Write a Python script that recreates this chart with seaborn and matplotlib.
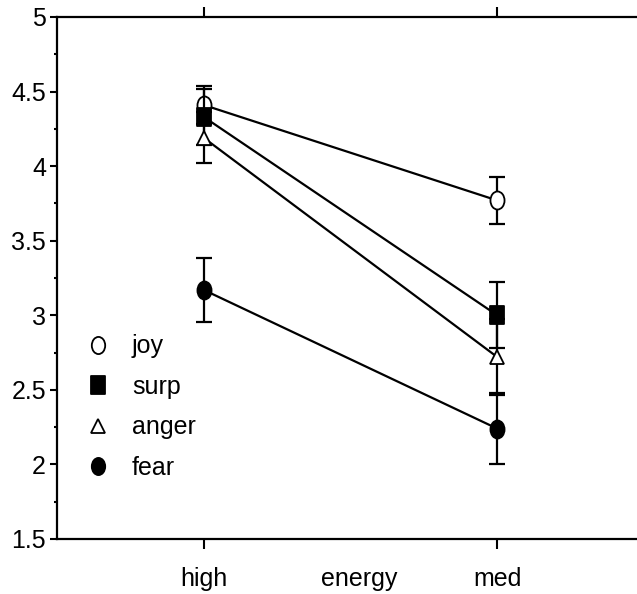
import numpy as np
import pandas as pd
import matplotlib
matplotlib.use("Agg")
import matplotlib.pyplot as plt
from matplotlib.path import Path
from matplotlib.lines import Line2D
import seaborn as sns

# Mean ratings per emotion at each energy level, with error-bar half widths
levels = ["high", "med"]
emotions = ["joy", "surp", "anger", "fear"]
joy_mean = [4.41, 3.77]
joy_err = [0.13, 0.155]
surp_mean = [4.33, 3.00]
surp_err = [0.19, 0.22]
anger_mean = [4.19, 2.72]
anger_err = [0.17, 0.255]
fear_mean = [3.17, 2.24]
fear_err = [0.215, 0.24]
y_ticks = [1.5, 2, 2.5, 3, 3.5, 4, 4.5, 5]
y_tick_labels = ["1.5", "2", "2.5", "3", "3.5", "4", "4.5", "5"]
x_title = "energy"

sns.set_style("ticks")
plt.rcParams["font.family"] = ["Liberation Sans", "DejaVu Sans"]
plt.rcParams["text.color"] = "black"
plt.rcParams["xtick.color"] = "black"
plt.rcParams["ytick.color"] = "black"

rows = []
for name, means, errs in [("joy", joy_mean, joy_err), ("surp", surp_mean, surp_err),
                          ("anger", anger_mean, anger_err), ("fear", fear_mean, fear_err)]:
    for i, lev in enumerate(levels):
        rows.append({"emotion": name, "level": lev, "pos": i, "mean": means[i], "err": errs[i]})
df = pd.DataFrame(rows)

# Tall ellipse and tall rectangle markers
circ = Path.unit_circle()
ellipse = Path(circ.vertices * np.array([0.78, 1.0]), circ.codes)
rect = Path([(-0.39, -0.5), (0.39, -0.5), (0.39, 0.5), (-0.39, 0.5), (-0.39, -0.5)],
            [Path.MOVETO, Path.LINETO, Path.LINETO, Path.LINETO, Path.CLOSEPOLY])

styles = {
    "joy": dict(marker=ellipse, ms=13, mfc="white"),
    "surp": dict(marker=rect, ms=13, mfc="black"),
    "anger": dict(marker="^", ms=10, mfc="white"),
    "fear": dict(marker=ellipse, ms=13, mfc="black"),
}

fig = plt.figure(figsize=(6.37, 5.94), dpi=100)
ax = fig.add_axes([57 / 637, 55 / 594, 587 / 637, 522 / 594])

for k, name in enumerate(emotions):
    sub = df[df["emotion"] == name]
    st = styles[name]
    z = 3 + 2 * k
    ax.errorbar(sub["pos"], sub["mean"], yerr=sub["err"], fmt="none", ecolor="black",
                elinewidth=1.6, capsize=6, capthick=1.6, zorder=z)
    sns.lineplot(data=sub, x="pos", y="mean", ax=ax, color="black", linewidth=1.6,
                 marker=st["marker"], markersize=st["ms"], markerfacecolor=st["mfc"],
                 markeredgecolor="black", markeredgewidth=1.3, zorder=z + 1,
                 errorbar=None, sort=False)

ax.set_xlim(-0.5, 1.5)
ax.set_ylim(1.5, 5)
ax.set_xticks([0, 1])
ax.set_xticklabels(levels, fontsize=18)
ax.set_yticks(y_ticks)
ax.set_yticklabels(y_tick_labels, fontsize=18)
ax.set_yticks(np.arange(1.75, 5, 0.5), minor=True)
ax.set_xlabel("")
ax.set_ylabel("")

for side in ["left", "top", "bottom"]:
    ax.spines[side].set_linewidth(1.6)
    ax.spines[side].set_color("black")
ax.spines["right"].set_visible(False)

ax.tick_params(axis="y", which="major", direction="out", length=5, width=1.5, pad=3)
ax.tick_params(axis="y", which="minor", direction="out", length=2.5, width=1.5)
ax.tick_params(axis="x", which="major", direction="out", length=7, width=1.5, pad=13,
               top=True, bottom=True)

ax.annotate(x_title, xy=(0.53, 0), xycoords=("data", "axes fraction"),
            xytext=(0, -20), textcoords="offset points", ha="center", va="top",
            fontsize=18, color="black")

handles = []
for name in emotions:
    st = styles[name]
    handles.append(Line2D([], [], linestyle="none", marker=st["marker"],
                          markersize=st["ms"] * 0.95, markerfacecolor=st["mfc"],
                          markeredgecolor="black", markeredgewidth=1.3, label=name))
ax.legend(handles=handles, loc="upper left", bbox_to_anchor=(0.044, 0.392),
          frameon=False, fontsize=18, handlelength=1.2, handletextpad=0.76,
          labelspacing=0.66, borderpad=0, borderaxespad=0)

fig.savefig("out.png", dpi=100)
